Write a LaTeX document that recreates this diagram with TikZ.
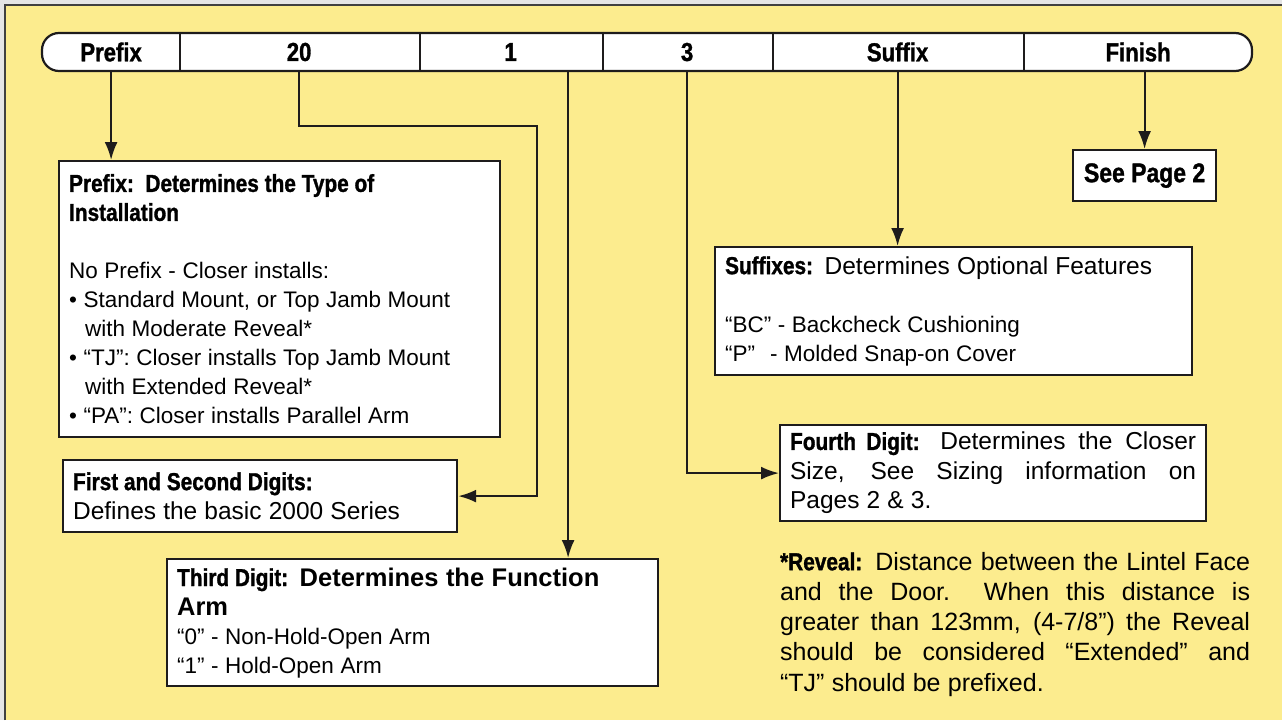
\documentclass[tikz,border=0pt]{standalone}
\usepackage{fontspec}
\setmainfont{Liberation Sans}[WordSpace=1.05]
\newfontfamily\condbf[FakeStretch=0.85,FakeBold=1.2]{Liberation Sans}
\usetikzlibrary{arrows.meta,positioning}

\definecolor{pagey}{RGB}{252,236,142}
\definecolor{inkline}{RGB}{30,28,28}

\newcommand{\natspace}{\spaceskip=0pt\xspaceskip=0pt\relax}
\newcommand{\headfont}{\condbf\bfseries\fontsize{24.5}{29}\selectfont\natspace}
\newcommand{\cellfont}{\condbf\bfseries\fontsize{26}{29}\selectfont\natspace}
\newcommand{\itemfont}{\normalfont\fontsize{22.5}{29}\selectfont\natspace}
\newcommand{\descfont}{\normalfont\fontsize{24.5}{29.5}\selectfont\natspace}
\newcommand{\descbold}{\normalfont\bfseries\fontsize{25.5}{29}\selectfont\natspace}
\newcommand{\revealfont}{\normalfont\fontsize{25}{30.2}\selectfont\natspace}

\begin{document}
\begin{tikzpicture}[x=1pt,y=-1pt,>={Latex[length=18pt,width=13pt]},line width=2.2pt]
        \tikzstyle{box} = [rectangle, draw=inkline, fill=white, anchor=north west, inner xsep=10pt, inner ysep=0pt, align=left]
        \tikzstyle{cell} = [rectangle, anchor=west, minimum height=38pt, inner sep=0pt, font=\cellfont]
        \tikzstyle{arrow} = [->, draw=inkline]

        % Page
        \useasboundingbox (0,0) rectangle (1282,720);
        \fill[pagey] (0,0) rectangle (1282,720);
        \fill[black!10] (0,0) rectangle (1282,4);
        \fill[black!10] (0,0) rectangle (4,720);
        \draw[line width=1.8pt, black!75] (5,720) -- (5,5) -- (1282,5);

        % Model number bar
        \node[draw=inkline, fill=white, rounded corners=17pt, minimum width=1210pt, minimum height=38pt, inner sep=0pt] (bar) at (647,52) {};
        \node[cell, minimum width=136pt] (pfx) at (42,52) {Prefix};
        \node[cell, minimum width=240pt] (twenty) at (178,52) {20};
        \node[cell, minimum width=183pt] (one) at (418,52) {1};
        \node[cell, minimum width=170pt] (three) at (601,52) {3};
        \node[cell, minimum width=251pt] (sfx) at (771,52) {Suffix};
        \node[cell, minimum width=230pt] (finish) at (1022,52) {Finish};

        \draw[inkline] (pfx.north east) -- (pfx.south east);
        \draw[inkline] (twenty.north east) -- (twenty.south east);
        \draw[inkline] (one.north east) -- (one.south east);
        \draw[inkline] (three.north east) -- (three.south east);
        \draw[inkline] (sfx.north east) -- (sfx.south east);

        % Boxes
        \node[box, text width=421pt, minimum height=276pt] (pfxbox) at (58,160) {\headfont Prefix:\ \ Determines the Type of\\Installation\\[29pt]\itemfont No Prefix - Closer installs:\\• Standard Mount, or Top Jamb Mount\\\hspace*{16pt}with Moderate Reveal*\\• “TJ”: Closer installs Top Jamb Mount\\\hspace*{16pt}with Extended Reveal*\\• “PA”: Closer installs Parallel Arm\par};
        \node[box, text width=374pt, minimum height=72pt] (digbox) at (62,459) {\headfont First and Second Digits:\\\descfont Defines the basic 2000 Series\par};
        \node[box, text width=471pt, minimum height=127pt] (thirdbox) at (166,558) {\headfont Third Digit:\ \ \descbold Determines the Function\\Arm\\\itemfont “0” - Non-Hold-Open Arm\\“1” - Hold-Open Arm\par};
        \node[box, text width=457pt, minimum height=128pt] (sfxbox) at (714,246) {\headfont Suffixes:\ \ \descfont Determines Optional Features\\[29pt]\itemfont “BC” - Backcheck Cushioning\\\makebox[45pt][l]{“P”}- Molded Snap-on Cover\par};
        \node[box, text width=406pt, minimum height=96pt, align=justify] (fourbox) at (779,424) {\headfont Fourth Digit:\ \ \descfont Determines the Closer\linebreak Size, See Sizing information on\linebreak Pages 2 \& 3.\par};
        \node[box, minimum width=143pt, minimum height=51pt, inner xsep=0pt, font=\cellfont\fontsize{27}{29}\selectfont] (seepage) at (1072,149) {\natspace See Page 2};

        % Footnote
        \node[anchor=north west, inner sep=0pt, text width=470pt, align=justify] (reveal) at (779,551) {\headfont *Reveal:\ \ \revealfont Distance between the Lintel Face\linebreak and the Door.\ \ When this distance is\linebreak greater than 123mm, (4-7/8”) the Reveal\linebreak should be considered “Extended” and\linebreak “TJ” should be prefixed.\par};

        % Arrows
        \draw[arrow] (pfx.south) -- (pfx.south |- pfxbox.north);
        \coordinate (turn) at (537,126);
        \draw[arrow] (twenty.south) |- (turn) |- (digbox.east);
        \draw[arrow] ([xshift=57.5pt]one.south) -- ([xshift=57.5pt]one.south |- thirdbox.north);
        \draw[arrow] (three.south) |- (fourbox.west);
        \draw[arrow] (sfx.south) -- (sfx.south |- sfxbox.north);
        \draw[arrow] (finish.south -| seepage.north) -- (seepage.north);
    \end{tikzpicture}
\end{document}
